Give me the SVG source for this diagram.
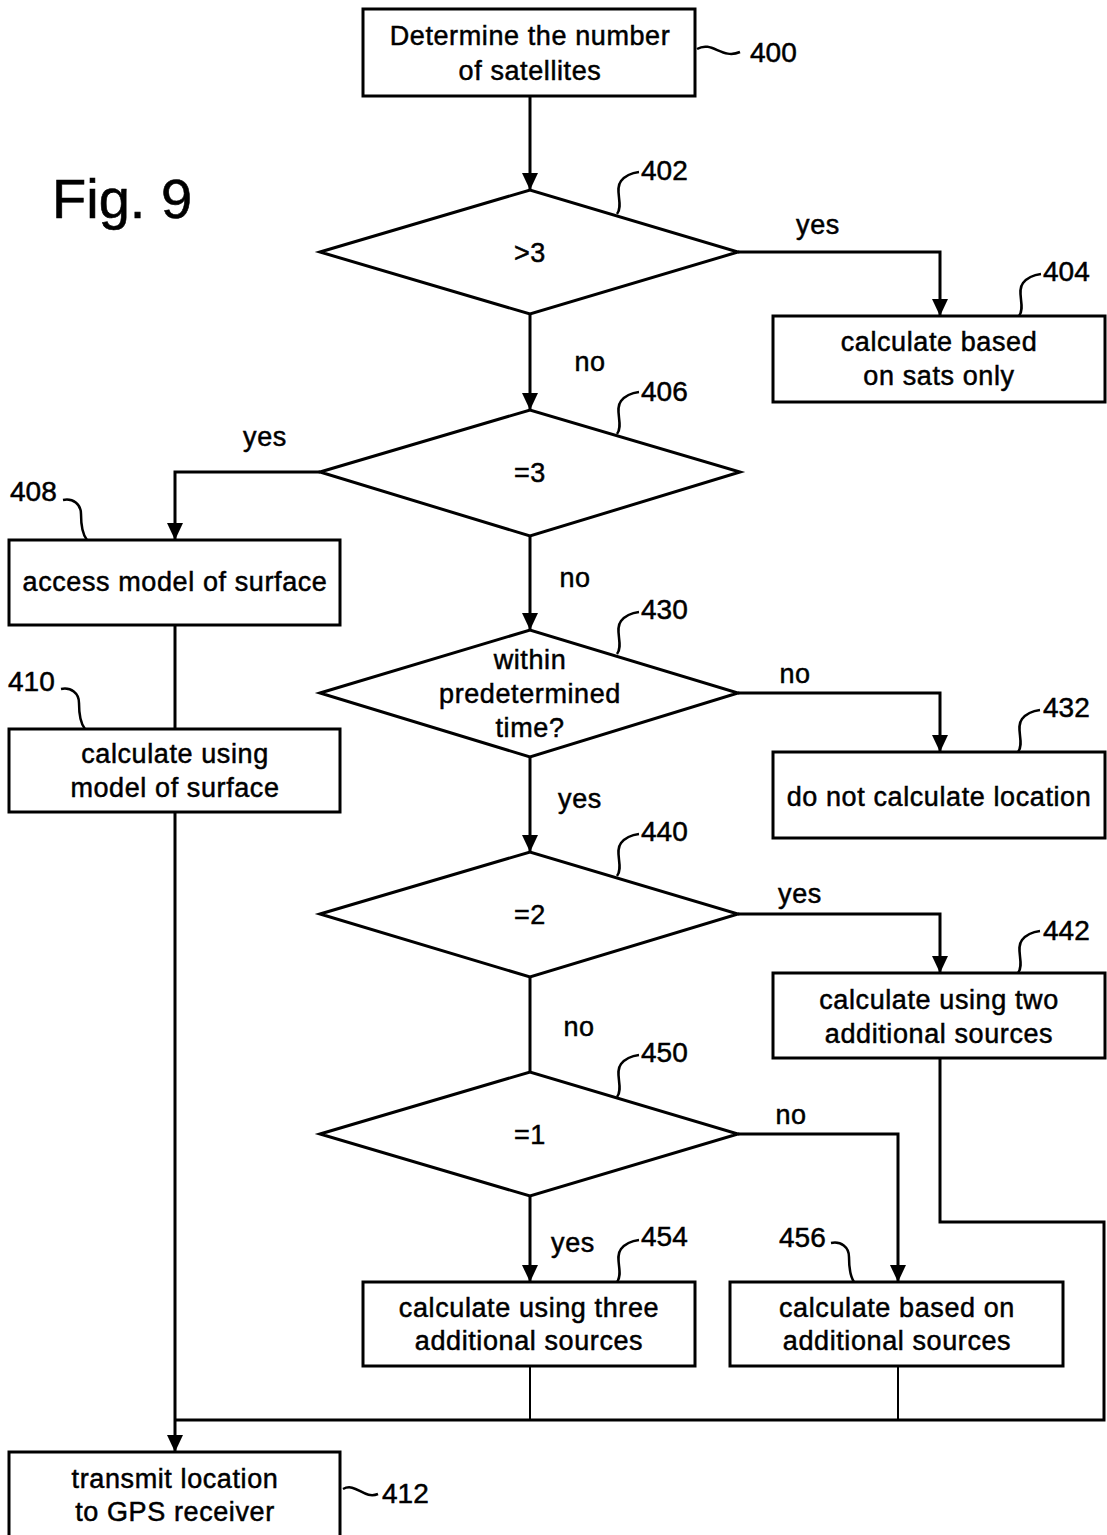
<svg xmlns="http://www.w3.org/2000/svg" width="1107" height="1535" viewBox="0 0 1107 1535">
  <defs>
    <marker id="arrow" markerWidth="17" markerHeight="16" refX="17" refY="8" orient="auto" markerUnits="userSpaceOnUse" viewBox="0 0 17 16">
      <path d="M0,0 L17,8 L0,16 Z" fill="#000"/>
    </marker>
    <style>
      .box { fill: #fff; stroke: #000; stroke-width: 3; }
      .dia { fill: #fff; stroke: #000; stroke-width: 3; stroke-linejoin: miter; }
      .txt { font-family: "Liberation Sans", Arial, sans-serif; font-size: 27px; letter-spacing: 0.6px; fill: #000; stroke: #000; stroke-width: 0.5px; text-anchor: middle; }
      .lbl { font-family: "Liberation Sans", Arial, sans-serif; font-size: 28px; fill: #000; stroke: #000; stroke-width: 0.5px; }
      .edge { fill: none; stroke: #000; stroke-width: 3; }
      .thin { fill: none; stroke: #000; stroke-width: 2; }
      .lead { fill: none; stroke: #000; stroke-width: 2.5; }
      .arr { marker-end: url(#arrow); }
    </style>
  </defs>
  <rect width="1107" height="1535" fill="#fff"/>

  <text x="52" y="218" font-family="Liberation Sans, Arial, sans-serif" font-size="56" fill="#000" stroke="#000" stroke-width="0.6">Fig. 9</text>

  <!-- connectors -->
  <g id="connectors">
    <path class="edge arr" d="M530,96 V190"/>
    <path class="edge arr" d="M738,252 H940 V316"/>
    <path class="edge arr" d="M530,314 V410"/>
    <path class="edge arr" d="M320,472 H175 V540"/>
    <path class="edge" d="M175,625 V729"/>
    <path class="edge arr" d="M175,812 V1452"/>
    <path class="edge arr" d="M530,536 V630"/>
    <path class="edge arr" d="M738,693 H940 V752"/>
    <path class="edge arr" d="M530,757 V852"/>
    <path class="edge arr" d="M738,914 H940 V973"/>
    <path class="edge" d="M530,977 V1072"/>
    <path class="edge arr" d="M738,1134 H898 V1282"/>
    <path class="edge arr" d="M530,1196 V1282"/>
    <path class="edge" d="M940,1058 V1222 H1104 V1420 H175"/>
    <path class="thin" d="M530,1366 V1420"/>
    <path class="thin" d="M898,1366 V1420"/>
    <text class="txt" x="818" y="234">yes</text>
    <text class="txt" x="590" y="371">no</text>
    <text class="txt" x="265" y="446">yes</text>
    <text class="txt" x="575" y="587">no</text>
    <text class="txt" x="795" y="683">no</text>
    <text class="txt" x="580" y="808">yes</text>
    <text class="txt" x="800" y="903">yes</text>
    <text class="txt" x="579" y="1036">no</text>
    <text class="txt" x="791" y="1124">no</text>
    <text class="txt" x="573" y="1252">yes</text>
  </g>

  <g id="n400">
    <rect class="box" x="363" y="9" width="332" height="87"/>
    <text class="txt" x="530" y="45">Determine the number</text>
    <text class="txt" x="530" y="80">of satellites</text>
    <path class="lead" d="M697,49 C712,40 722,60 740,52"/>
    <text class="lbl" x="750" y="62">400</text>
  </g>

  <g id="n402">
    <polygon class="dia" points="320,252 530,190 738,252 530,314"/>
    <text class="txt" x="530" y="262">&gt;3</text>
    <path class="lead" d="M617,214 c7,-9 -3,-24 4,-33 c4,-5 10,-8 18,-9"/>
    <text class="lbl" x="641" y="180">402</text>
  </g>

  <g id="n404">
    <rect class="box" x="773" y="316" width="332" height="86"/>
    <text class="txt" x="939" y="351">calculate based</text>
    <text class="txt" x="939" y="385">on sats only</text>
    <path class="lead" d="M1019,316 c7,-9 -3,-24 4,-33 c4,-5 10,-8 18,-9"/>
    <text class="lbl" x="1043" y="281">404</text>
  </g>

  <g id="n406">
    <polygon class="dia" points="320,472 530,410 740,472 530,536"/>
    <text class="txt" x="530" y="482">=3</text>
    <path class="lead" d="M617,434 c7,-9 -3,-24 4,-33 c4,-5 10,-8 18,-9"/>
    <text class="lbl" x="641" y="401">406</text>
  </g>

  <g id="n408">
    <rect class="box" x="9" y="540" width="331" height="85"/>
    <text class="txt" x="175" y="591">access model of surface</text>
    <path class="lead" d="M63,500 c10,-2 18,4 18,14 c0,10 1,20 6,26"/>
    <text class="lbl" x="10" y="501">408</text>
  </g>

  <g id="n410">
    <rect class="box" x="9" y="729" width="331" height="83"/>
    <text class="txt" x="175" y="763">calculate using</text>
    <text class="txt" x="175" y="797">model of surface</text>
    <path class="lead" d="M61,689 c10,-2 18,4 18,14 c0,10 1,20 6,26"/>
    <text class="lbl" x="8" y="691">410</text>
  </g>

  <g id="n430">
    <polygon class="dia" points="320,693 530,630 738,693 530,757"/>
    <text class="txt" x="530" y="669">within</text>
    <text class="txt" x="530" y="703">predetermined</text>
    <text class="txt" x="530" y="737">time?</text>
    <path class="lead" d="M617,654 c7,-9 -3,-24 4,-33 c4,-5 10,-8 18,-9"/>
    <text class="lbl" x="641" y="619">430</text>
  </g>

  <g id="n432">
    <rect class="box" x="773" y="752" width="332" height="86"/>
    <text class="txt" x="939" y="806">do not calculate location</text>
    <path class="lead" d="M1018,752 c7,-9 -3,-24 4,-33 c4,-5 10,-8 18,-9"/>
    <text class="lbl" x="1043" y="717">432</text>
  </g>

  <g id="n440">
    <polygon class="dia" points="320,914 530,852 738,914 530,977"/>
    <text class="txt" x="530" y="924">=2</text>
    <path class="lead" d="M617,876 c7,-9 -3,-24 4,-33 c4,-5 10,-8 18,-9"/>
    <text class="lbl" x="641" y="841">440</text>
  </g>

  <g id="n442">
    <rect class="box" x="773" y="973" width="332" height="85"/>
    <text class="txt" x="939" y="1009">calculate using two</text>
    <text class="txt" x="939" y="1043">additional sources</text>
    <path class="lead" d="M1018,973 c7,-9 -3,-24 4,-33 c4,-5 10,-8 18,-9"/>
    <text class="lbl" x="1043" y="940">442</text>
  </g>

  <g id="n450">
    <polygon class="dia" points="320,1134 530,1072 738,1134 530,1196"/>
    <text class="txt" x="530" y="1144">=1</text>
    <path class="lead" d="M617,1097 c7,-9 -3,-24 4,-33 c4,-5 10,-8 18,-9"/>
    <text class="lbl" x="641" y="1062">450</text>
  </g>

  <g id="n454">
    <rect class="box" x="363" y="1282" width="332" height="84"/>
    <text class="txt" x="529" y="1317">calculate using three</text>
    <text class="txt" x="529" y="1350">additional sources</text>
    <path class="lead" d="M617,1282 c7,-9 -3,-24 4,-33 c4,-5 10,-8 18,-9"/>
    <text class="lbl" x="641" y="1246">454</text>
  </g>

  <g id="n456">
    <rect class="box" x="730" y="1282" width="333" height="84"/>
    <text class="txt" x="897" y="1317">calculate based on</text>
    <text class="txt" x="897" y="1350">additional sources</text>
    <path class="lead" d="M831,1243 c10,-2 18,4 18,14 c0,10 1,19 5,25"/>
    <text class="lbl" x="779" y="1247">456</text>
  </g>

  <g id="n412">
    <rect class="box" x="9" y="1452" width="331" height="95"/>
    <text class="txt" x="175" y="1488">transmit location</text>
    <text class="txt" x="175" y="1521">to GPS receiver</text>
    <path class="lead" d="M343,1489 C356,1482 364,1500 378,1494"/>
    <text class="lbl" x="382" y="1503">412</text>
  </g>
</svg>
